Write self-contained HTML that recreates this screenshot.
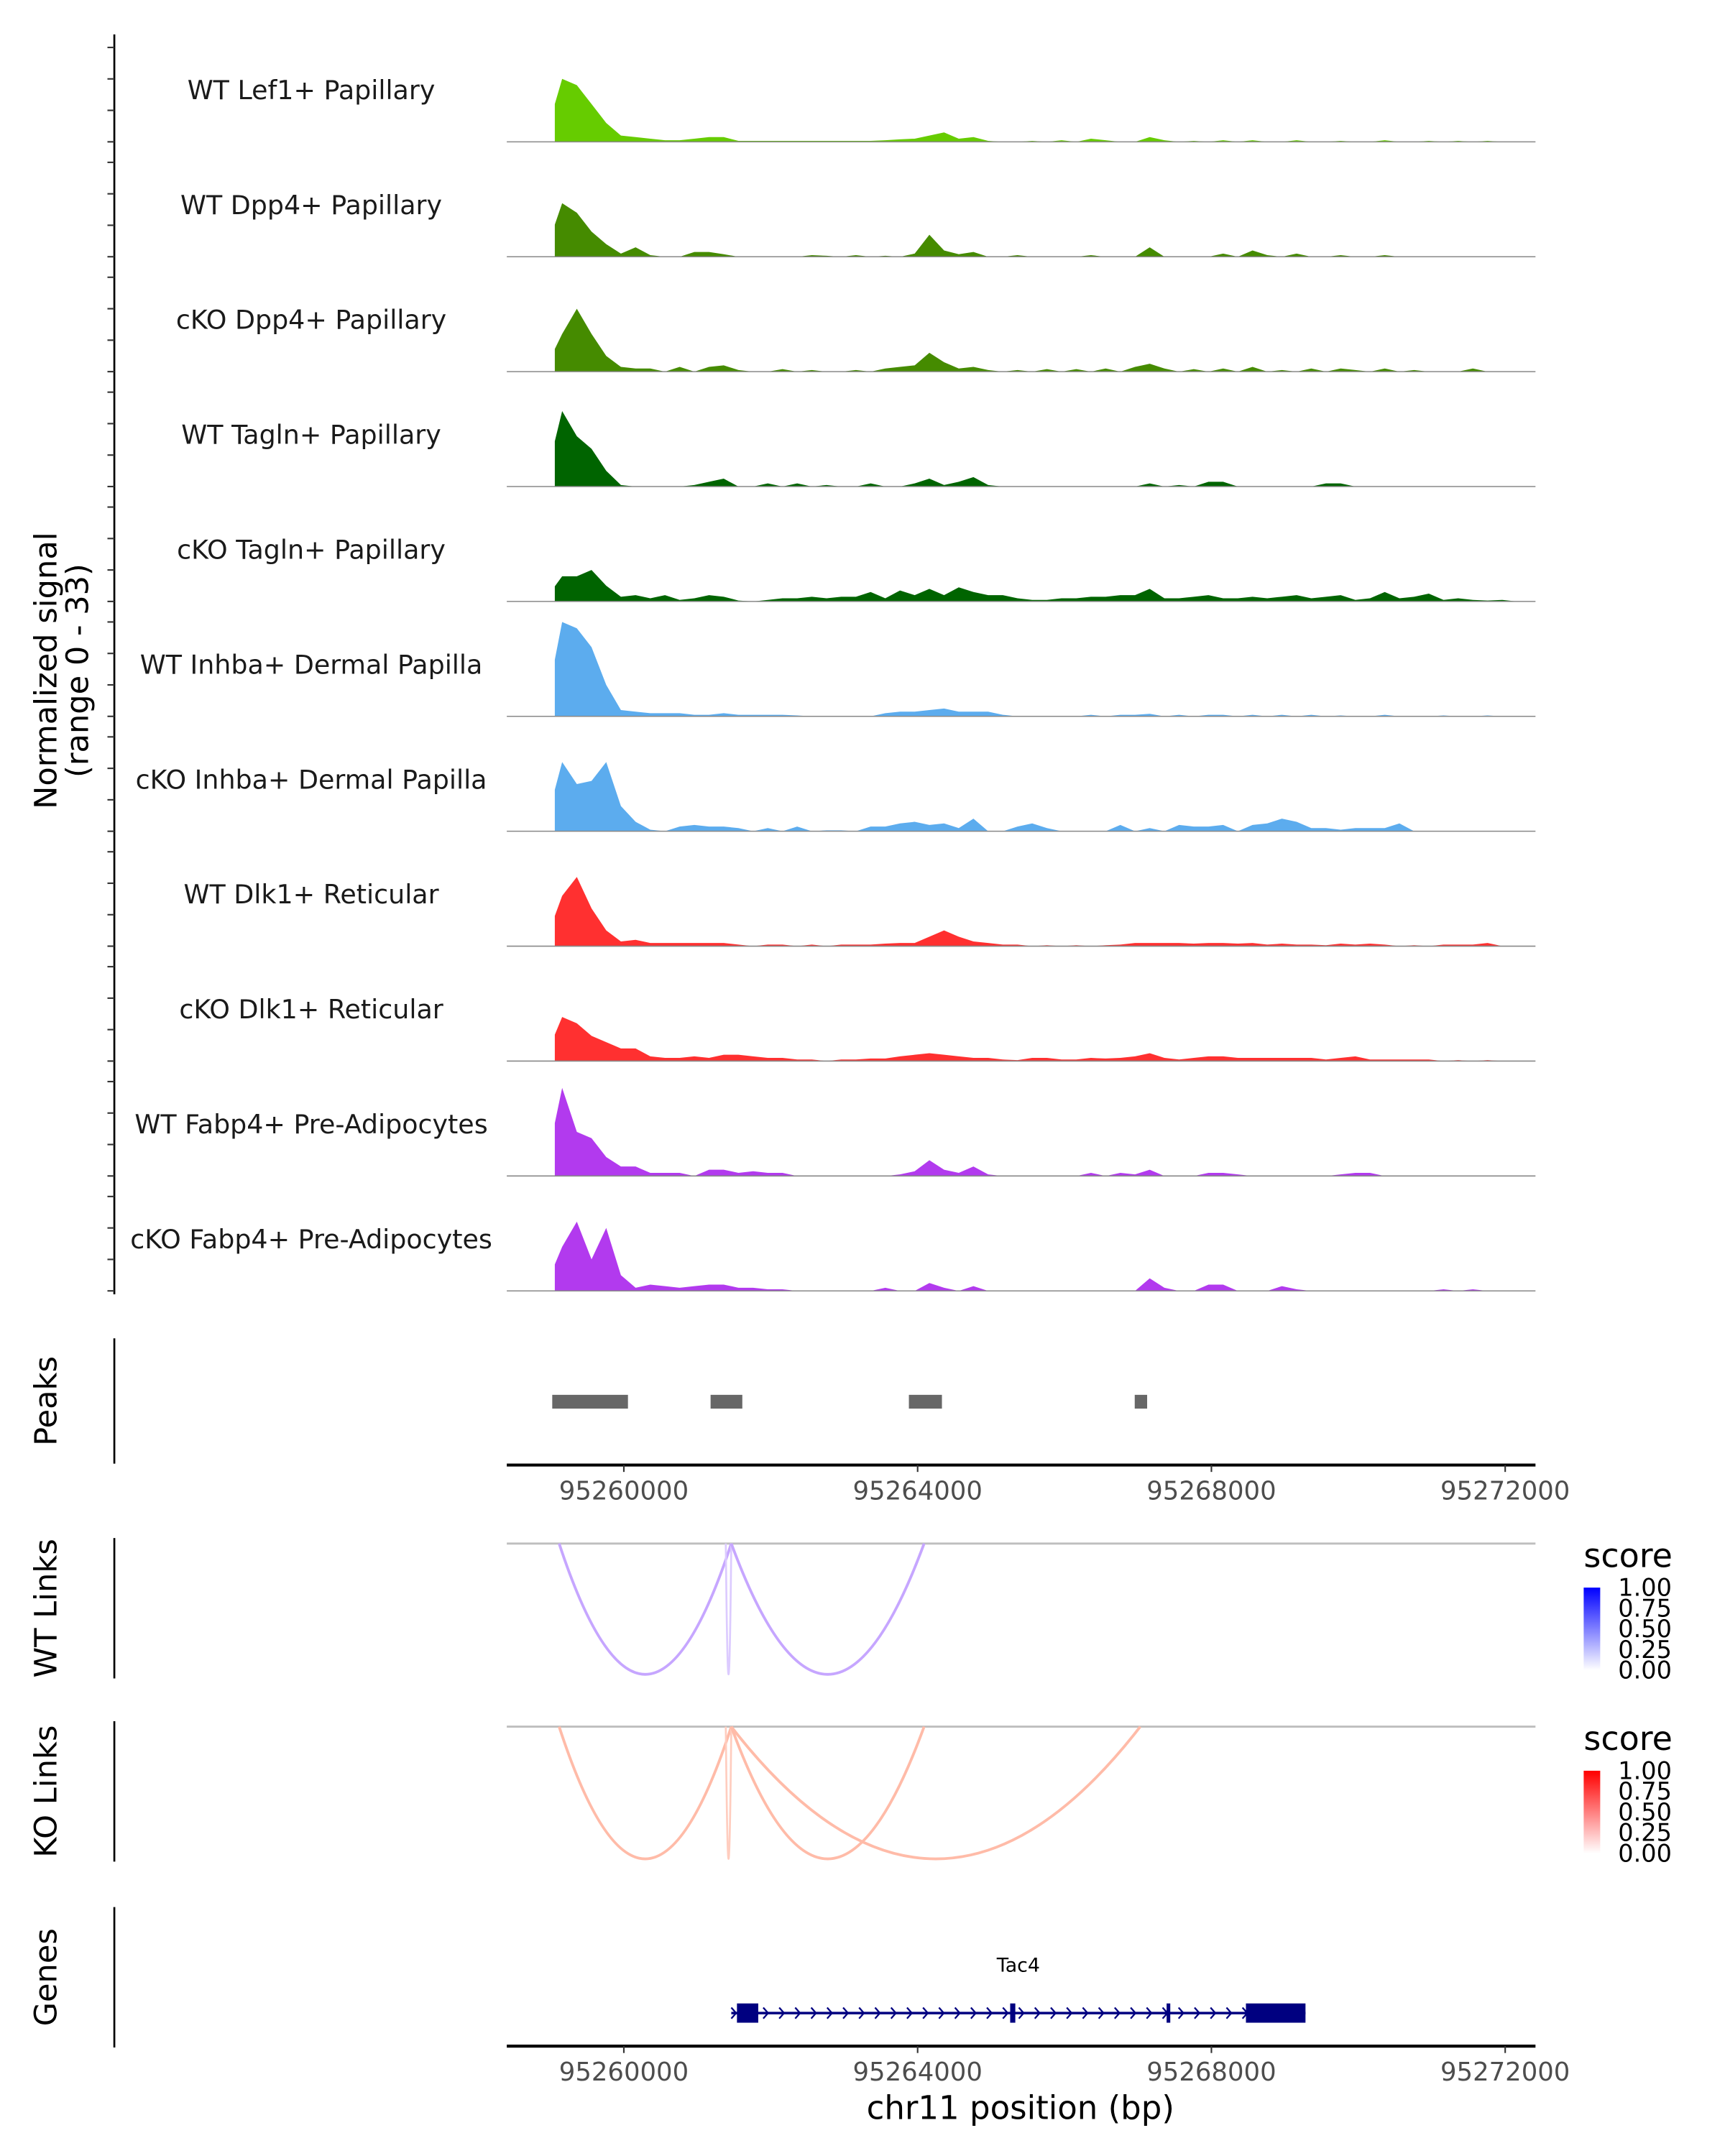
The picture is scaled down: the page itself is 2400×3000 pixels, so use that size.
<!DOCTYPE html>
<html><head><meta charset="utf-8"><style>
html,body{margin:0;padding:0;background:#fff}
svg{display:block;font-family:"DejaVu Sans","Liberation Sans",sans-serif}
</style></head><body>
<svg id="chart" xmlns="http://www.w3.org/2000/svg" width="2400" height="3000" viewBox="0 0 1252.6 1565.8">
<rect x="0" y="0" width="1252.6" height="1565.8" fill="#fff"/>
<g id="tracks"></g>
<g id="peaks"></g>
<g id="links"></g>
<g id="genes"></g>
</svg>
<script>
// ---- data ----
const binStart = 95259060;
const binSize = 200;
const trackNames = ["WT Lef1+ Papillary","WT Dpp4+ Papillary","cKO Dpp4+ Papillary","WT Tagln+ Papillary","cKO Tagln+ Papillary","WT Inhba+ Dermal Papilla","cKO Inhba+ Dermal Papilla","WT Dlk1+ Reticular","cKO Dlk1+ Reticular","WT Fabp4+ Pre-Adipocytes","cKO Fabp4+ Pre-Adipocytes"];
const trackColors = ["#66CC00","#458B00","#458B00","#006400","#006400","#5CACEE","#5CACEE","#FF3030","#FF3030","#B23AEE","#B23AEE"];
const sparse0 = {0:20,1:18,2:12,3:6,4:2,5:1.5,6:1,7:0.5,8:0.5,9:1,10:1.5,11:1.5,12:0.3,13:0.3,14:0.3,15:0.3,16:0.3,17:0.3,18:0.3,19:0.3,20:0.3,21:0.3,22:0.5,23:0.8,24:1,25:2,26:3,27:1,28:1.5,29:0.3,32:0.3,34:0.5,36:1,37:0.5,40:1.5,41:0.5,43:0.3,45:0.5,47:0.5,50:0.5,53:0.3,56:0.5,59:0.3,61:0.3,63:0.3};
const sparse1 = {0:17,1:14,2:8,3:4,4:1,5:3,6:0.5,9:1.5,10:1.5,11:0.8,17:0.5,18:0.3,20:0.5,22:0.3,24:1,25:7,26:2,27:0.8,28:1.5,31:0.5,36:0.5,40:3,45:1,47:2,48:0.5,50:1,53:0.5,56:0.5};
const sparse2 = {0:12,1:20,2:12,3:5,4:1.5,5:1,6:1,8:1.5,10:1.5,11:2,12:0.5,15:0.8,17:0.5,20:0.5,22:1,23:1.5,24:2,25:6,26:3,27:1,28:1.5,29:0.5,31:0.5,33:0.8,35:0.8,37:1,39:1.5,40:2.5,41:1,43:0.8,45:1,47:1.5,49:0.5,51:1,53:1,54:0.5,56:1,58:0.5,62:1};
const sparse3 = {0:24,1:16,2:12,3:5,4:0.5,9:0.5,10:1.5,11:2.5,14:1,16:1,18:0.5,21:1,24:1,25:2.5,26:0.5,27:1.5,28:3,29:0.5,40:1,42:0.5,44:1.5,45:1.5,52:1,53:1};
const sparse4 = {0:8,1:8,2:10,3:5,4:1.5,5:2,6:1,7:2,8:0.5,9:1,10:2,11:1.5,12:0.3,14:0.5,15:1,16:1,17:1.5,18:1,19:1.5,20:1.5,21:3,22:1,23:3.5,24:2,25:4,26:2,27:4.5,28:3,29:2,30:2,31:1,32:0.5,33:0.5,34:1,35:1,36:1.5,37:1.5,38:2,39:2,40:4,41:1,42:1,43:1.5,44:2,45:1,46:1,47:1.5,48:1,49:1.5,50:2,51:1,52:1.5,53:2,54:0.5,55:1,56:3,57:1,58:1.5,59:2.5,60:0.5,61:1,62:0.5,63:0.3,64:0.5};
const sparse5 = {0:30,1:28,2:22,3:10,4:2,5:1.5,6:1,7:1,8:1,9:0.5,10:0.5,11:1,12:0.5,13:0.5,14:0.5,15:0.5,16:0.3,22:1,23:1.5,24:1.5,25:2,26:2.5,27:1.5,28:1.5,29:1.5,30:0.5,36:0.5,38:0.5,39:0.5,40:0.8,42:0.5,44:0.5,45:0.5,47:0.5,49:0.5,51:0.5,53:0.3,56:0.5,60:0.3,63:0.3};
const sparse6 = {0:22,1:15,2:16,3:22,4:8,5:3,6:0.5,8:1.5,9:2,10:1.5,11:1.5,12:1,14:1,16:1.5,18:0.3,19:0.3,21:1.5,22:1.5,23:2.5,24:3,25:2,26:2.5,27:1,28:4,31:1.5,32:2.5,33:1,38:2,40:1,42:2,43:1.5,44:1.5,45:2,47:2,48:2.5,49:4,50:3,51:1,52:1,53:0.5,54:1,55:1,56:1,57:2.5};
const sparse7 = {0:16,1:22,2:12,3:5,4:1.5,5:2,6:1,7:1,8:1,9:1,10:1,11:1,12:0.5,14:0.5,15:0.5,17:0.5,19:0.5,20:0.5,21:0.5,22:0.8,23:1,24:1,25:3,26:5,27:3,28:1.5,29:1,30:0.5,31:0.5,33:0.3,35:0.3,37:0.3,38:0.5,39:1,40:1,41:1,42:1,43:0.8,44:1,45:1,46:0.8,47:1,48:0.5,49:0.8,50:0.5,51:0.5,52:0.3,53:0.8,54:0.5,55:0.8,56:0.5,58:0.3,60:0.5,61:0.5,62:0.5,63:1};
const sparse8 = {0:14,1:12,2:8,3:6,4:4,5:4,6:1.5,7:1,8:1,9:1.5,10:1,11:2,12:2,13:1.5,14:1,15:1,16:0.5,17:0.5,19:0.5,20:0.5,21:0.8,22:0.8,23:1.5,24:2,25:2.5,26:2,27:1.5,28:1,29:1,30:0.5,31:0.3,32:1,33:1,34:0.5,35:0.5,36:1,37:0.8,38:1,39:1.5,40:2.5,41:1,42:0.5,43:1,44:1.5,45:1.5,46:1,47:1,48:1,49:1,50:1,51:1,52:0.5,53:1,54:1.5,55:0.5,56:0.5,57:0.5,58:0.5,59:0.5,61:0.3,63:0.3};
const sparse9 = {0:28,1:14,2:12,3:6,4:3,5:3,6:1,7:1,8:1,10:2,11:2,12:1,13:1.5,14:1,15:1,23:0.5,24:1.5,25:5,26:2,27:1,28:3,29:0.5,36:1,38:1,39:0.5,40:2,44:1,45:1,46:0.5,53:0.5,54:1,55:1};
const sparse10 = {0:14,1:22,2:10,3:20,4:5,5:1,6:2,7:1.5,8:1,9:1.5,10:2,11:2,12:1,13:1,14:0.5,15:0.5,22:1,25:2.5,26:1,28:1.5,40:4,41:1,44:2,45:2,49:1.5,50:0.5,60:0.5,62:0.5};
const trackValues = [sparse0,sparse1,sparse2,sparse3,sparse4,sparse5,sparse6,sparse7,sparse8,sparse9,sparse10];
const nBins = 68;
const yMax = 33;
const peakStarts = [95259025,95261181,95263881,95266956];
const peakEnds = [95260056,95261613,95264331,95267125];
const xTicks = [95260000,95264000,95268000,95272000];
const wtLinkStarts = [95259119,95261388,95261463];
const wtLinkEnds = [95261463,95261463,95264088];
const koLinkStarts = [95259119,95261388,95261463,95261463];
const koLinkEnds = [95261463,95261463,95264088,95267031];
const geneStart = 95261463, geneEnd = 95269281;
const exonStarts = [95261540,95265260,95267390,95268470];
const exonEnds = [95261830,95265330,95267440,95269281];
const legendTicks = ["1.00","0.75","0.50","0.25","0.00"];

// ---- helpers ----
const NS="http://www.w3.org/2000/svg";
function mk(parent,tag,attrs,text){const e=document.createElementNS(NS,tag);for(const k in attrs)e.setAttribute(k,attrs[k]);if(text!==undefined)e.textContent=text;parent.appendChild(e);return e;}
const X0=368, X1=1115;
function xs(bp){return 453+(bp-95260000)*640/12000;}
const trackBase0=103, trackStep=83.45, trackH=75.4;
function ys(i,v){return trackBase0+i*trackStep - v/yMax*trackH;}

// ---- tracks ----
const gT=document.getElementById('tracks');
let el=mk(gT,'line',{x1:83,y1:25,x2:83,y2:940,stroke:'#000','stroke-width':1.4});


for(let i=0;i<trackNames.length;i++){
  const base=trackBase0+i*trackStep;
  for(let t=0;t<=30;t+=10){
    const tk=mk(gT,'line',{x1:78,y1:ys(i,t),x2:83,y2:ys(i,t),stroke:'#333','stroke-width':1.1});
    
    
  }
  const vals=trackValues[i];
  let d='M'+xs(binStart)+','+base;
  for(let k=0;k<nBins;k++){
    const v=vals[k]||0;
    const xa=xs(binStart+k*binSize), xb=xs(binStart+(k+1)*binSize);
    const xm=(xa+xb)/2;
    if(k===0){d+=' L'+xa+','+ys(i,v*0.6);}
    d+=' L'+xm+','+ys(i,v);
  }
  d+=' L'+xs(binStart+nBins*binSize)+','+base+' Z';
  const p=mk(gT,'path',{d:d,fill:trackColors[i],stroke:'none'});
  
  
  const bl=mk(gT,'line',{x1:X0,y1:base,x2:X1,y2:base,stroke:'#888','stroke-width':0.8});
  
  
  const lb=mk(gT,'text',{x:226,y:base-31,'text-anchor':'middle','font-size':19,fill:'#1a1a1a'},trackNames[i]);
  
  
}
el=mk(gT,'text',{transform:'translate(41,487) rotate(-90)','text-anchor':'middle','font-size':22.5,fill:'#000'},'Normalized signal');


el=mk(gT,'text',{transform:'translate(64,487) rotate(-90)','text-anchor':'middle','font-size':22.5,fill:'#000'},'(range 0 - 33)');



// ---- x axis ----
function xAxis(g,y,name){
  const a=mk(g,'line',{x1:X0,y1:y,x2:X1,y2:y,stroke:'#000','stroke-width':2.2});
  
  
  xTicks.forEach(t=>{
    const tk=mk(g,'line',{x1:xs(t),y1:y,x2:xs(t),y2:y+5,stroke:'#333','stroke-width':1.1});
    
    
    const tl=mk(g,'text',{x:xs(t),y:y+25,'text-anchor':'middle','font-size':18.5,fill:'#4d4d4d'},String(t));
    
    
  });
}
function sideTitle(g,y1,y2,label,name){
  const l=mk(g,'line',{x1:83,y1:y1,x2:83,y2:y2,stroke:'#000','stroke-width':1.4});
  
  
  const t=mk(g,'text',{transform:'translate(41,'+((y1+y2)/2)+') rotate(-90)','text-anchor':'middle','font-size':22.5,fill:'#000'},label);
  
  
}

// ---- peaks ----
const gP=document.getElementById('peaks');
sideTitle(gP,972,1063,'Peaks','peaks');
for(let i=0;i<peakStarts.length;i++){
  const r=mk(gP,'rect',{x:xs(peakStarts[i]),y:1013,width:xs(peakEnds[i])-xs(peakStarts[i]),height:10,fill:'#676767'});
  
  
}
xAxis(gP,1064,'peaks-x-axis');

// ---- links ----
const gL=document.getElementById('links');
function linkPanel(top,bottom,starts,ends,color,thinColor,label,name,c1){
  sideTitle(gL,top-4,top+98,label,name);
  const bl=mk(gL,'line',{x1:X0,y1:top,x2:X1,y2:top,stroke:'#bebebe','stroke-width':1.5});
  
  
  for(let i=0;i<starts.length;i++){
    const xa=xs(starts[i]), xb=xs(ends[i]);
    const thin=(xb-xa)<10;
    const d='M'+xa+','+top+' Q'+((xa+xb)/2)+','+(2*bottom-top)+' '+xb+','+top;
    const p=mk(gL,'path',{d:d,fill:'none',stroke:thin?thinColor:color,'stroke-width':thin?1.4:2.0});
    
    
  }
  const gid=name+'-grad';
  const defs=mk(gL,'defs',{});
  const lg=mk(defs,'linearGradient',{id:gid,x1:0,y1:1,x2:0,y2:0});
  mk(lg,'stop',{offset:'0','stop-color':'#fff'});
  mk(lg,'stop',{offset:'1','stop-color':c1});
  const sc=mk(gL,'text',{x:1150,y:top+17,'font-size':24,fill:'#000'},'score');
  
  
  const bar=mk(gL,'rect',{x:1150,y:top+32,width:12,height:60,fill:'url(#'+gid+')'});
  
  
  legendTicks.forEach((t,j)=>{
    const yy=top+32+j*15;
    const tx=mk(gL,'text',{x:1175,y:yy+6,'font-size':17.5,fill:'#000'},t);
    
    
  });
}
linkPanel(1121,1216,wtLinkStarts,wtLinkEnds,'#C6A6FF','#DCCBFF','WT Links','wt-links','#0000FF');
linkPanel(1254,1350,koLinkStarts,koLinkEnds,'#FFBBA8','#FFCDBF','KO Links','ko-links','#FF0000');

// ---- genes ----
const gG=document.getElementById('genes');
sideTitle(gG,1385,1487,'Genes','genes');
const gy=1462;
el=mk(gG,'line',{x1:xs(geneStart),y1:gy,x2:xs(geneEnd),y2:gy,stroke:'#000080','stroke-width':1.8});


for(let x=xs(geneStart)+2;x<xs(geneEnd)-40;x+=11.6){
  const a=mk(gG,'path',{d:'M'+(x-2)+','+(gy-4)+' L'+(x+1.5)+','+gy+' L'+(x-2)+','+(gy+4),fill:'none',stroke:'#000080','stroke-width':1.2});
  
  
}
for(let i=0;i<exonStarts.length;i++){
  const r=mk(gG,'rect',{x:xs(exonStarts[i]),y:gy-7,width:Math.max(2,xs(exonEnds[i])-xs(exonStarts[i])),height:14,fill:'#000080'});
  
  
}
el=mk(gG,'text',{x:(xs(geneStart)+xs(geneEnd))/2,y:1432,'text-anchor':'middle','font-size':14,fill:'#000'},'Tac4');


xAxis(gG,1486,'genes-x-axis');
el=mk(gG,'text',{x:741,y:1539,'text-anchor':'middle','font-size':23.5,fill:'#000'},'chr11 position (bp)');


</script>
</body></html>
